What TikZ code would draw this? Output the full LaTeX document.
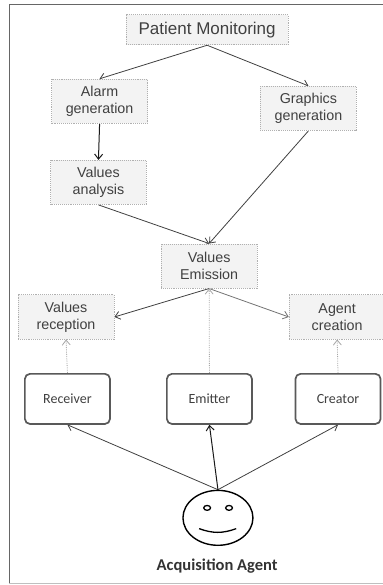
\documentclass[tikz,border=0pt]{standalone}
\usepackage{fontspec}
\setmainfont{Liberation Sans}
\newfontfamily\toolfont{Carlito}
\usetikzlibrary{shapes.geometric}
\usetikzlibrary{arrows.meta}
\pgfdeclarelayer{edgelayer}
\pgfdeclarelayer{nodelayer}
\pgfsetlayers{edgelayer,nodelayer,main}
\definecolor{boxfill}{HTML}{F3F3F3}
\definecolor{boxline}{HTML}{B0B0B0}
\tikzstyle{service}=[rectangle,fill=boxfill,draw=boxline,densely dotted,line width=0.9pt,minimum width=3.37cm,minimum height=1.55cm,align=center,font=\fontsize{14.3}{17}\selectfont,text=black!75]
\tikzstyle{title}=[style=service,minimum width=5.69cm,minimum height=1.05cm,font=\fontsize{17}{20}\selectfont]
\tikzstyle{role}=[rectangle,rounded corners=5pt,fill=white,draw=black!65,line width=1.7pt,minimum width=2.99cm,minimum height=1.76cm,font=\toolfont\fontsize{14}{17}\selectfont,text=black!75]
\tikzstyle{head}=[ellipse,fill=white,draw=black,line width=1.4pt,minimum width=2.46cm,minimum height=1.93cm]
\tikzstyle{eye}=[ellipse,fill=white,draw=black,line width=1.3pt,minimum width=0.24cm,minimum height=0.17cm,inner sep=0pt]
\tikzstyle{transition}=[-{Straight Barb[length=5pt,width=8pt]},draw=black!75,line width=0.8pt]
\tikzstyle{weak}=[-{Straight Barb[length=5pt,width=8pt]},draw=black!35,densely dotted,line width=0.8pt]

\begin{document}
\begin{tikzpicture}
	\useasboundingbox (0, 0) rectangle (13.46, 20.56);
	\draw [draw=black!60, line width=0.8pt] (0.32, 0.07) -- (0.32, 20.4) -- (13.46, 20.4);
	\draw [draw=black!25, line width=0.6pt] (0.32, 0.07) -- (13.46, 0.07);
	\begin{pgfonlayer}{nodelayer}
		\node [style=title] (0) at (7.28, 19.51) {Patient Monitoring};
		\node [style=service] (1) at (3.5, 17) {Alarm\\generation};
		\node [style=service] (2) at (10.84, 16.75) {Graphics\\generation};
		\node [style=service] (3) at (3.46, 14.15) {Values\\analysis};
		\node [style=service] (4) at (7.35, 11.21) {Values\\Emission};
		\node [style=service] (5) at (2.32, 9.42) {Values\\reception};
		\node [style=service] (6) at (11.85, 9.42) {Agent\\creation};
		\node [style=role] (7) at (2.37, 6.54) {Receiver};
		\node [style=role] (8) at (7.36, 6.54) {Emitter};
		\node [style=role] (9) at (11.88, 6.54) {Creator};
		\node [style=head] (10) at (7.66, 2.36) {};
		\node [style=eye] (11) at (7.28, 2.71) {};
		\node [style=eye] (12) at (8.05, 2.71) {};
		\coordinate (13) at (7, 1.98);
		\coordinate (14) at (8.3, 1.98);
		\node [font=\toolfont\bfseries\fontsize{16.5}{20}\selectfont, text=black!80] (15) at (7.63, 0.67) {Acquisition Agent};
	\end{pgfonlayer}
	\begin{pgfonlayer}{edgelayer}
		\draw [style=transition] (0.south) to (1.north);
		\draw [style=transition] (0.south) to (2.north);
		\draw [style=transition, draw=black!90, line width=1pt] (1.south) to (3.north);
		\draw [style=transition] (3.south) to (4.north);
		\draw [style=transition] (2.south) to (4.north);
		\draw [style=transition] (4.south) to (5.east);
		\draw [style=transition, draw=black!55] (4.south) to (6.west);
		\draw [style=weak] (7.north) to (5.south);
		\draw [style=weak] (8.north) to (4.south);
		\draw [style=weak] (9.north) to (6.south);
		\draw [style=transition] (10.north) to (7.south);
		\draw [style=transition, draw=black!90, line width=1pt] (10.north) to (8.south);
		\draw [style=transition] (10.north) to (9.south);
	\end{pgfonlayer}
	\draw [draw=black, line width=1.3pt, bend right=20] (13) to (14);
\end{tikzpicture}
\end{document}
